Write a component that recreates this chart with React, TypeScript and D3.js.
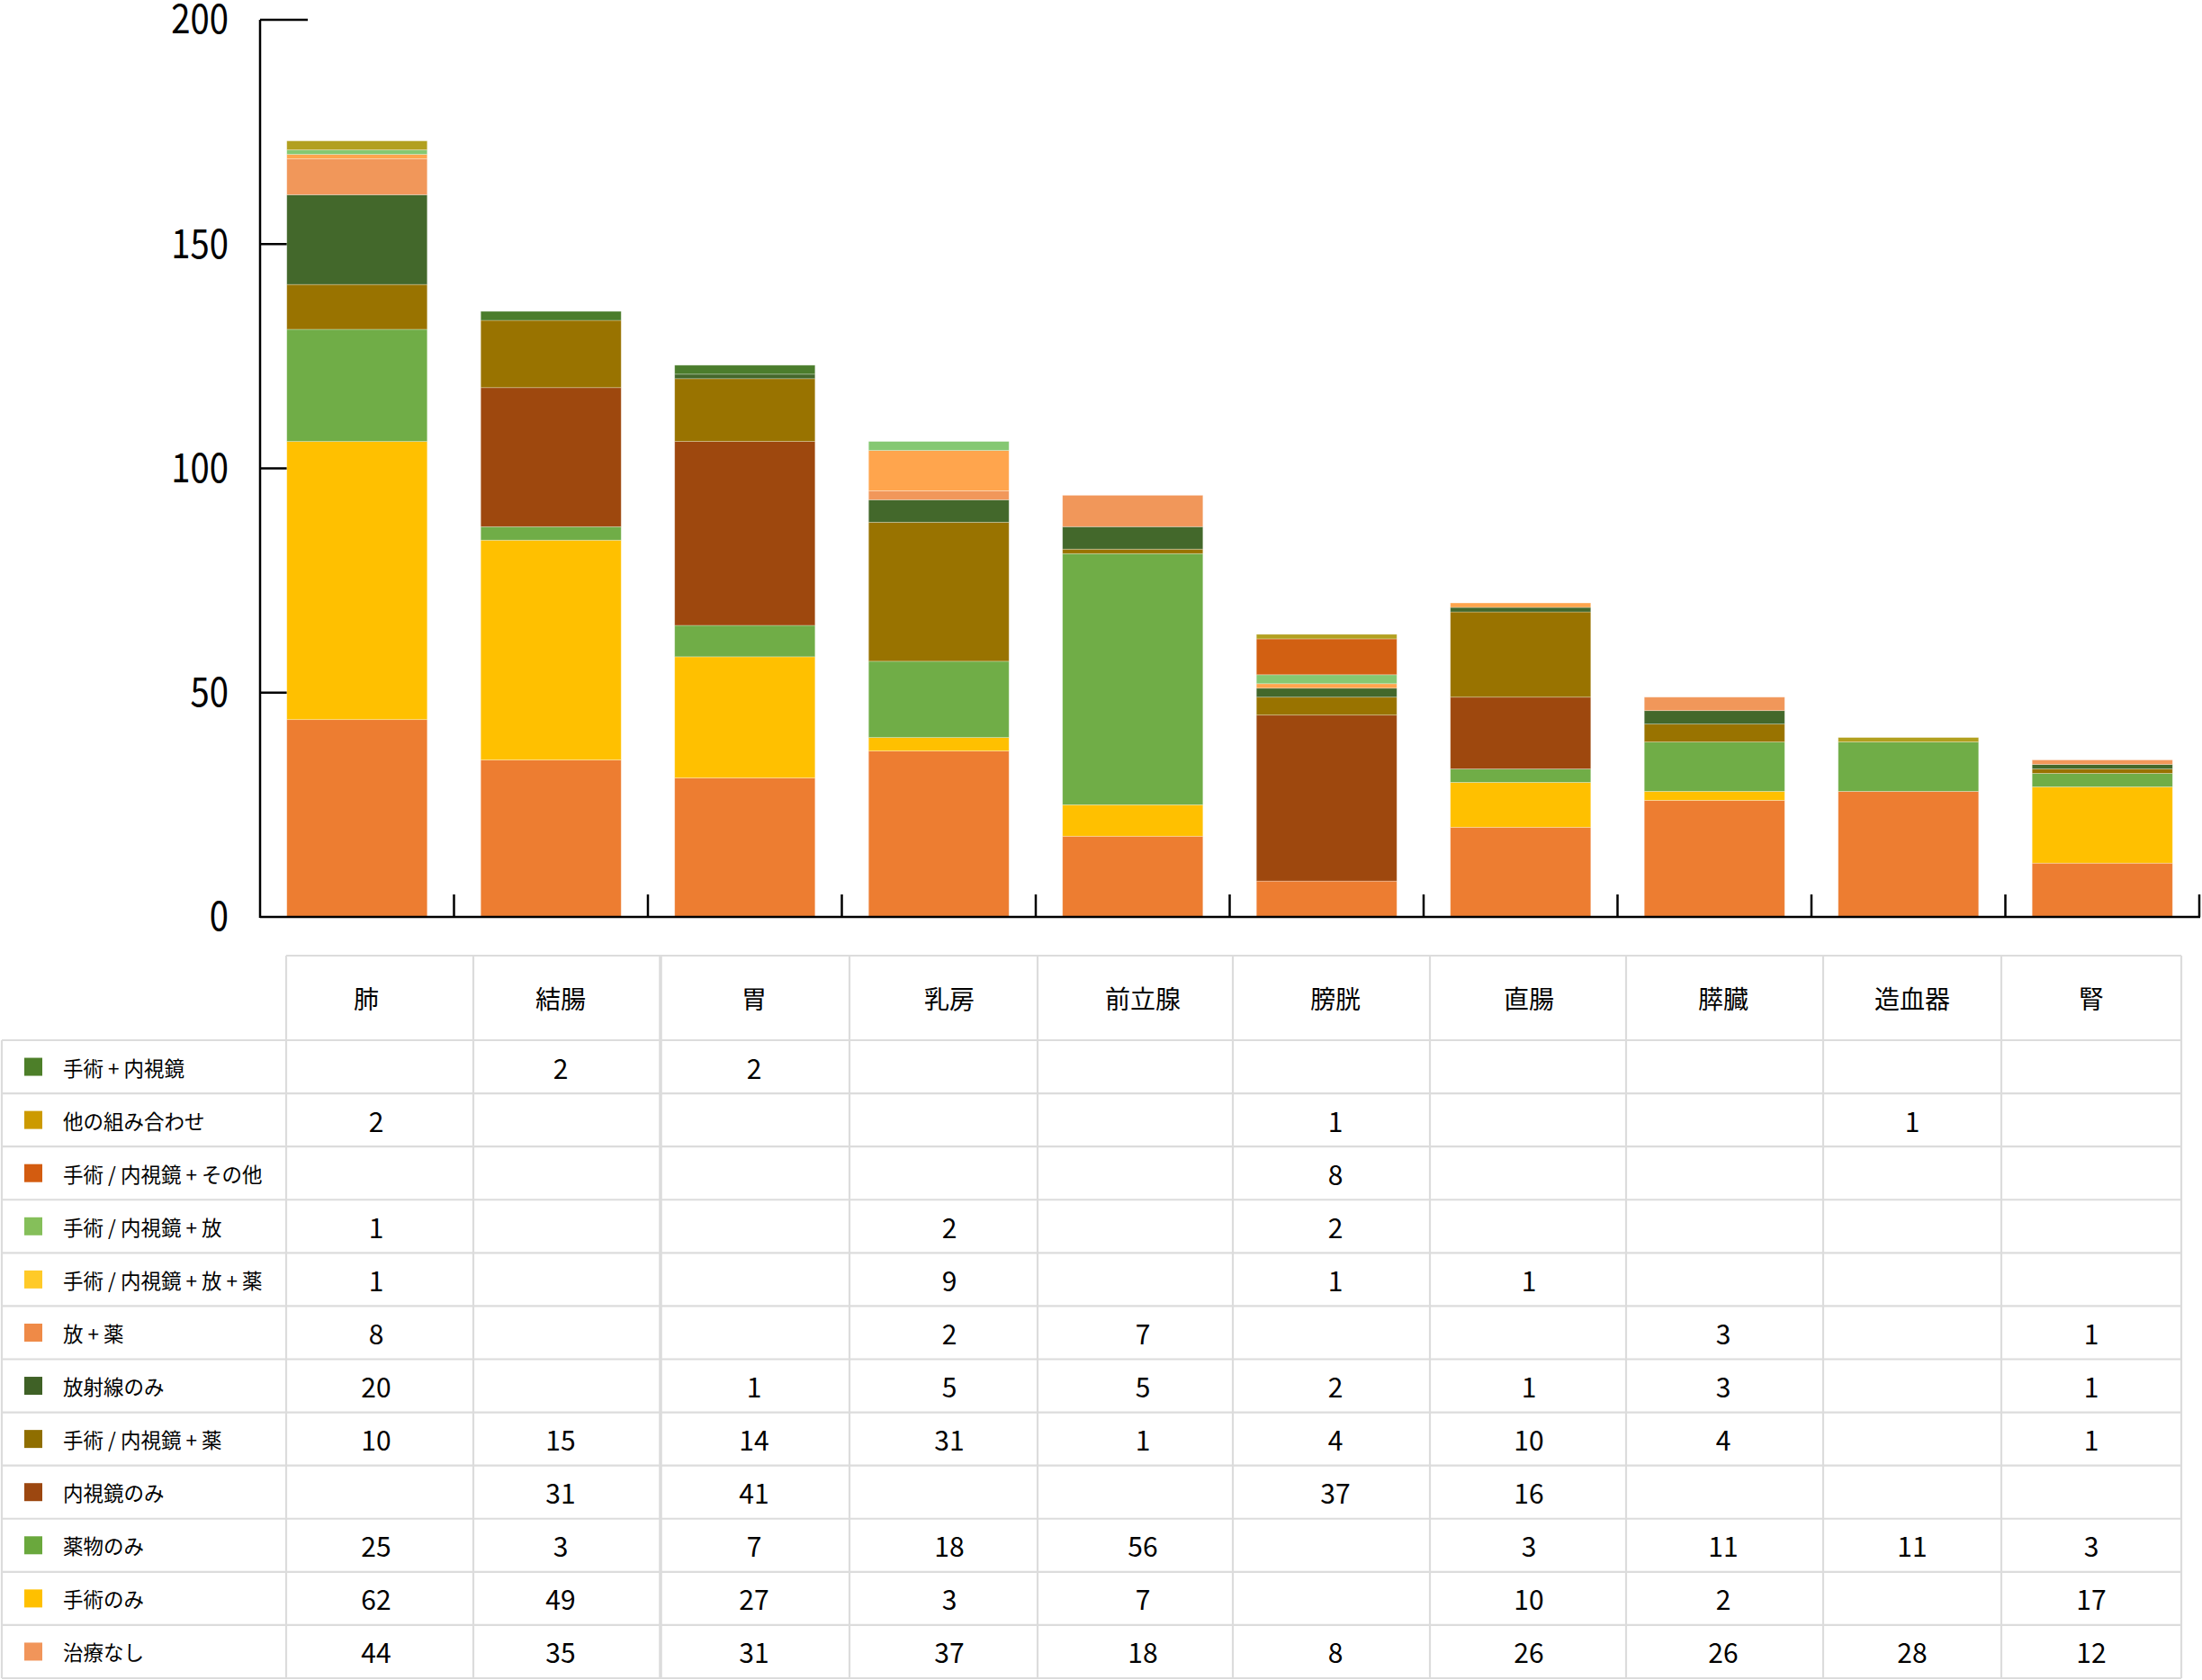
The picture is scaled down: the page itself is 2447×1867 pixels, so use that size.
import React from "react";
import * as d3 from "d3";

// ---------- data ----------
const categories = ["肺", "結腸", "胃", "乳房", "前立腺", "膀胱", "直腸", "膵臓", "造血器", "腎"];

// series in legend/table order (top row first)
const seriesNames = [
  "手術 + 内視鏡",
  "他の組み合わせ",
  "手術 / 内視鏡 + その他",
  "手術 / 内視鏡 + 放",
  "手術 / 内視鏡 + 放 + 薬",
  "放 + 薬",
  "放射線のみ",
  "手術 / 内視鏡 + 薬",
  "内視鏡のみ",
  "薬物のみ",
  "手術のみ",
  "治療なし",
];

// bar values as drawn
const surgeryPlusEndo = [0, 2, 2, 0, 0, 0, 0, 0, 0, 0];
const otherCombination = [2, 0, 0, 0, 0, 1, 0, 0, 1, 0];
const surgEndoOther = [0, 0, 0, 0, 0, 8, 0, 0, 0, 0];
const surgEndoRad = [1, 0, 0, 2, 0, 2, 0, 0, 0, 0];
const surgEndoRadDrug = [1, 0, 0, 9, 0, 1, 1, 0, 0, 0];
const radDrug = [8, 0, 0, 2, 7, 0, 0, 3, 0, 1];
const radiationOnly = [20, 0, 1, 5, 5, 2, 1, 3, 0, 1];
const surgEndoDrug = [10, 15, 14, 31, 1, 4, 19, 4, 0, 1];
const endoscopyOnly = [0, 31, 41, 0, 0, 37, 16, 0, 0, 0];
const drugOnly = [25, 3, 7, 17, 56, 0, 3, 11, 11, 3];
const surgeryOnly = [62, 49, 27, 3, 7, 0, 10, 2, 0, 17];
const noTreatment = [44, 35, 31, 37, 18, 8, 20, 26, 28, 12];

const seriesValues = [
  surgeryPlusEndo,
  otherCombination,
  surgEndoOther,
  surgEndoRad,
  surgEndoRadDrug,
  radDrug,
  radiationOnly,
  surgEndoDrug,
  endoscopyOnly,
  drugOnly,
  surgeryOnly,
  noTreatment,
];

// cells where the printed table differs from the drawn bar
const tableTextOverrides = [
  { series: "手術 / 内視鏡 + 薬", category: "直腸", text: "10" },
  { series: "治療なし", category: "直腸", text: "26" },
  { series: "薬物のみ", category: "乳房", text: "18" },
];

const yTicks = [0, 50, 100, 150, 200];

// ---------- styles ----------
const barColors = [
  "#4b7d2c",
  "#b2a01f",
  "#d26012",
  "#85c872",
  "#ffa54d",
  "#f1975a",
  "#43682b",
  "#997300",
  "#9e480e",
  "#70ad47",
  "#ffc000",
  "#ed7d31",
];
const swatchColors = [
  "#4d7f29",
  "#cc9a00",
  "#d35c10",
  "#85bf5a",
  "#ffca28",
  "#ef8a47",
  "#3f6126",
  "#8f6e00",
  "#9c4710",
  "#6aa83d",
  "#ffc000",
  "#f1955a",
];

const W = 2447;
const H = 1867;
const FONT = "'Noto Sans CJK JP', 'Noto Sans', sans-serif";

const plot = { left: 289, right: 2444, top: 22, bottom: 1019 };
const table = {
  legendLeft: 2,
  colEdges: [318, 526, 734, 944, 1153, 1370, 1589, 1807, 2026, 2224, 2424],
  headerCenters: [407, 623, 838, 1055, 1270, 1484, 1699, 1915, 2125, 2324],
  valueCenters: [418, 623, 838, 1055, 1270, 1484, 1699, 1915, 2125, 2324],
  headerTop: 1062,
  headerBottom: 1156,
  bottom: 1865,
};
const gridColor = "#dcdcdc";

export default function App() {
  const x = d3.scaleBand<string>().domain(categories).range([plot.left, plot.right]).padding(0);
  const y = d3.scaleLinear().domain([0, 200]).range([plot.bottom, plot.top]);
  const barW = x.bandwidth() * 0.724;

  const rows = categories.map((c, i) => {
    const o: any = { category: c };
    seriesNames.forEach((s, k) => (o[s] = seriesValues[k][i]));
    return o;
  });
  const stackKeys = seriesNames.slice().reverse();
  const stacked = d3.stack<any>().keys(stackKeys)(rows);

  const nRows = seriesNames.length;
  const rowH = (table.bottom - table.headerBottom) / nRows;
  const ce = table.colEdges;

  const cellText = (k: number, i: number) => {
    const ov = tableTextOverrides.find(
      (o) => o.series === seriesNames[k] && o.category === categories[i]
    );
    if (ov) return ov.text;
    const v = seriesValues[k][i];
    return v ? String(v) : "";
  };

  return (
    <svg
      width={W}
      height={H}
      style={{ position: "absolute", left: 0, top: 0, background: "#fff" }}
      fontFamily={FONT}
    >
      <rect width={W} height={H} fill="#fff" />
      {/* y ticks (drawn under bars) */}
      {yTicks.filter((t) => t > 0).map((t) => (
        <line key={t} x1={plot.left} x2={plot.left + 53} y1={y(t)} y2={y(t)} stroke="#000" strokeWidth={2.5} />
      ))}
      {/* bars */}
      {stacked.map((layer) => {
        const k = seriesNames.indexOf(layer.key);
        return (
          <g key={layer.key} fill={barColors[k]}>
            {layer.map((d, i) =>
              d[1] - d[0] > 0 ? (
                <rect
                  key={i}
                  x={(x(categories[i]) as number) + (x.bandwidth() - barW) / 2}
                  y={y(d[1])}
                  width={barW}
                  height={y(d[0]) - y(d[1])}
                  stroke="#fff"
                  strokeOpacity={0.35}
                  strokeWidth={0.8}
                />
              ) : null
            )}
          </g>
        );
      })}
      {/* axes */}
      <line x1={plot.left} x2={plot.left} y1={y(200)} y2={plot.bottom + 1} stroke="#000" strokeWidth={2.5} />
      <line x1={plot.left} x2={plot.right + 1} y1={plot.bottom} y2={plot.bottom} stroke="#000" strokeWidth={2.5} />
      {categories.map((c) => {
        const xx = (x(c) as number) + x.bandwidth();
        return <line key={c} x1={xx} x2={xx} y1={plot.bottom} y2={plot.bottom - 25} stroke="#000" strokeWidth={2.5} />;
      })}
      {yTicks.map((t) => (
        <text
          key={t}
          transform={`translate(254,${y(t) - 4}) scale(0.85,1)`}
          textAnchor="end"
          dominantBaseline="central"
          fontSize={45}
          fill="#000"
        >
          {t}
        </text>
      ))}

      {/* table grid */}
      <g stroke={gridColor} strokeWidth={2.2} fill="none">
        <line x1={ce[0]} x2={ce[ce.length - 1]} y1={table.headerTop} y2={table.headerTop} />
        {d3.range(nRows + 1).map((r) => {
          const yy = table.headerBottom + r * rowH;
          return <line key={r} x1={table.legendLeft} x2={ce[ce.length - 1]} y1={yy} y2={yy} />;
        })}
        <line x1={table.legendLeft} x2={table.legendLeft} y1={table.headerBottom} y2={table.bottom} />
        {ce.map((xx, j) => (
          <line
            key={j}
            x1={xx}
            x2={xx}
            y1={table.headerTop}
            y2={table.bottom}
            strokeWidth={j === 2 ? 3.6 : 2.2}
          />
        ))}
      </g>
      {/* header */}
      {categories.map((c, i) => (
        <text
          key={c}
          x={table.headerCenters[i]}
          y={(table.headerTop + table.headerBottom) / 2}
          textAnchor="middle"
          dominantBaseline="central"
          fontSize={28}
          fill="#000"
        >
          {c}
        </text>
      ))}
      {/* legend rows + values */}
      {seriesNames.map((s, k) => {
        const cy = table.headerBottom + (k + 0.5) * rowH;
        return (
          <g key={s}>
            <rect x={27} y={cy - 10} width={20} height={20} fill={swatchColors[k]} />
            <text x={70} y={cy} dominantBaseline="central" fontSize={22.5} fill="#000">
              {s}
            </text>
            {categories.map((c, i) => (
              <text
                key={c}
                x={table.valueCenters[i]}
                y={cy}
                textAnchor="middle"
                dominantBaseline="central"
                fontSize={30}
                fill="#000"
              >
                {cellText(k, i)}
              </text>
            ))}
          </g>
        );
      })}
    </svg>
  );
}
